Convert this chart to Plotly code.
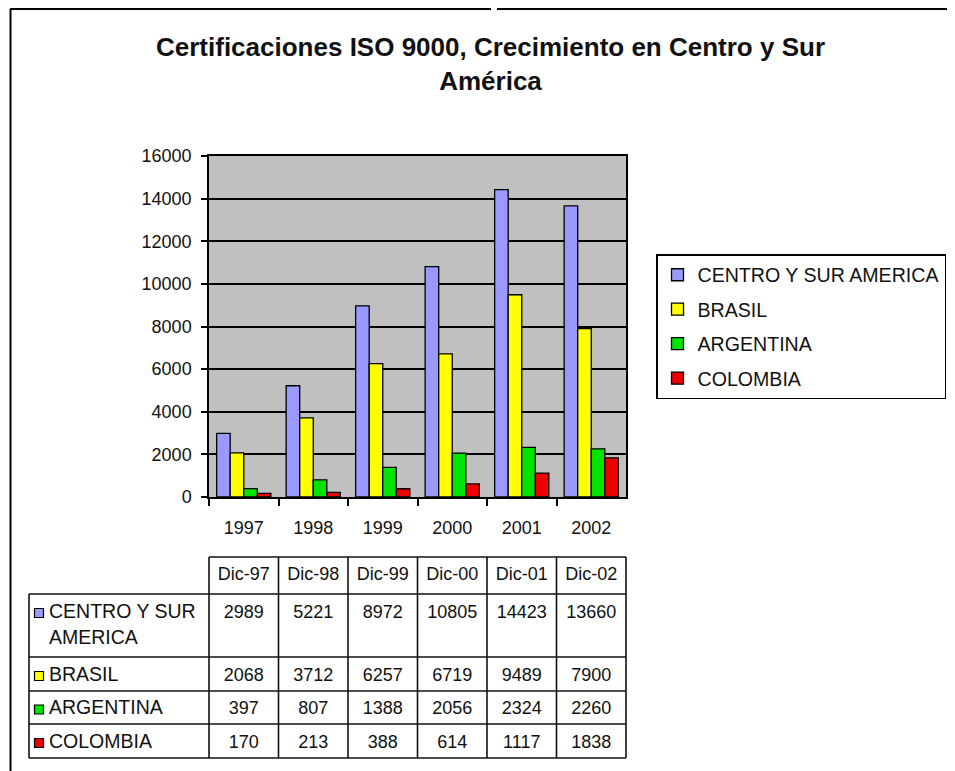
import plotly.graph_objects as go

# ---------------- data ----------------
years = ["1997", "1998", "1999", "2000", "2001", "2002"]
table_headers = ["Dic-97", "Dic-98", "Dic-99", "Dic-00", "Dic-01", "Dic-02"]
series_names = ["CENTRO Y SUR AMERICA", "BRASIL", "ARGENTINA", "COLOMBIA"]
table_labels = ["CENTRO Y SUR<br>AMERICA", "BRASIL", "ARGENTINA", "COLOMBIA"]
centro = [2989, 5221, 8972, 10805, 14423, 13660]
brasil = [2068, 3712, 6257, 6719, 9489, 7900]
argentina = [397, 807, 1388, 2056, 2324, 2260]
colombia = [170, 213, 388, 614, 1117, 1838]
series_values = [centro, brasil, argentina, colombia]
title_text = "Certificaciones ISO 9000, Crecimiento en Centro y Sur<br>América"

# ---------------- styles / layout constants ----------------
colors = ["#9999FF", "#FFFF00", "#00E400", "#EE0000"]
FONT = "Arial, Liberation Sans, sans-serif"
OFF = 8                          # html body margin
W, H = 955 - OFF, 771 - OFF
PLOT_L, PLOT_R, PLOT_T, PLOT_B = 209, 626, 156, 497   # screen pixels
UNIT = (PLOT_R - PLOT_L) / 6.0

TBL_LEFT = 29
TBL_TOP = 557
ROW_EDGES = [0, 37, 100, 134, 167, 201]
TD_L, TD_R, TD_T, TD_B = 24, 631, 553, 763


def fx(p):
    return (p - OFF) / W


def fy(p):
    return min(1.0, max(0.0, 1 - (p - OFF) / H))


def px2x(p):
    return -0.5 + (p - PLOT_L) / UNIT


fig = go.Figure()

for i, (name, vals) in enumerate(zip(series_names, series_values)):
    fig.add_trace(go.Bar(
        x=years, y=vals, name=name, legendgroup=name,
        marker=dict(color=colors[i], line=dict(color="#000000", width=1.3)),
        xaxis="x", yaxis="y", hoverinfo="x+y+name",
    ))

cat_pos = list(range(len(years)))
row_centers = [(ROW_EDGES[k] + ROW_EDGES[k + 1]) / 2 for k in range(5)]
tbl_left_x = px2x(TBL_LEFT)

fig.add_trace(go.Scatter(
    x=cat_pos, y=[row_centers[0]] * len(cat_pos), text=table_headers,
    mode="text", textposition="middle center",
    textfont=dict(family=FONT, size=18, color="#111111"),
    xaxis="x2", yaxis="y2", showlegend=False, hoverinfo="skip",
))

for i, vals in enumerate(series_values):
    yv = ROW_EDGES[i + 1] + 19 if i == 0 else row_centers[i + 1] + 2
    fig.add_trace(go.Scatter(
        x=cat_pos, y=[yv] * len(cat_pos), text=[str(v) for v in vals],
        mode="text", textposition="middle center",
        textfont=dict(family=FONT, size=18, color="#111111"),
        xaxis="x2", yaxis="y2", showlegend=False, hoverinfo="skip",
    ))
    fig.add_trace(go.Scatter(
        x=[px2x(39)], y=[yv], mode="markers",
        marker=dict(symbol="square", size=9, color=colors[i],
                    line=dict(color="#000000", width=1.2)),
        xaxis="x2", yaxis="y2", showlegend=False, hoverinfo="skip",
    ))
    ylab = (ROW_EDGES[i + 1] + 32) if i == 0 else yv
    fig.add_trace(go.Scatter(
        x=[px2x(49)], y=[ylab], text=[table_labels[i]],
        mode="text", textposition="middle right",
        textfont=dict(family=FONT, size=19.5, color="#111111"),
        xaxis="x2", yaxis="y2", showlegend=False, hoverinfo="skip",
    ))

shapes = []
shapes.append(dict(type="rect", xref="x domain", yref="y domain", x0=0, x1=1,
                   y0=0, y1=1, fillcolor="#C0C0C0", line=dict(width=0),
                   layer="below"))
LINE = dict(color="#111111", width=1.6)
shapes.append(dict(type="line", xref="x2", yref="y2", x0=-0.5, x1=5.5,
                   y0=ROW_EDGES[0], y1=ROW_EDGES[0], line=LINE))
for e in ROW_EDGES[1:]:
    shapes.append(dict(type="line", xref="x2", yref="y2", x0=tbl_left_x, x1=5.5,
                       y0=e, y1=e, line=LINE))
shapes.append(dict(type="line", xref="x2", yref="y2", x0=tbl_left_x, x1=tbl_left_x,
                   y0=ROW_EDGES[1], y1=ROW_EDGES[-1], line=LINE))
for k in range(len(years) + 1):
    xv = -0.5 + k
    shapes.append(dict(type="line", xref="x2", yref="y2", x0=xv, x1=xv,
                       y0=ROW_EDGES[0], y1=ROW_EDGES[-1], line=LINE))

BORDER = dict(color="#000000", width=2)
shapes.append(dict(type="line", xref="paper", yref="paper", x0=fx(10.5), x1=fx(10.5),
                   y0=fy(9), y1=0, line=BORDER))
shapes.append(dict(type="line", xref="paper", yref="paper", x0=fx(10), x1=fx(491),
                   y0=fy(9), y1=fy(9), line=BORDER))
shapes.append(dict(type="line", xref="paper", yref="paper", x0=fx(497), x1=1,
                   y0=fy(9), y1=fy(9), line=BORDER))

annotations = [dict(
    text=title_text, xref="paper", yref="paper", x=fx(490), y=fy(64),
    xanchor="center", yanchor="middle", align="center", showarrow=False,
    font=dict(family=FONT, size=26, color="#111111", weight="bold"),
)]

fig.update_layout(
    width=W, height=H, autosize=False,
    margin=dict(l=0, r=0, t=0, b=0),
    paper_bgcolor="#FFFFFF", plot_bgcolor="#FFFFFF",
    font=dict(family=FONT, color="#111111"),
    barmode="group", bargap=0.22, bargroupgap=0,
    xaxis=dict(domain=[fx(PLOT_L), fx(PLOT_R)], range=[-0.5, 5.5],
               type="category", tickson="boundaries", ticks="outside",
               ticklen=7, tickwidth=1.5, tickcolor="#000000",
               showline=True, linecolor="#000000", linewidth=1.5, mirror=True,
               showgrid=False, tickfont=dict(family=FONT, size=18, color="#111111"),
               ticklabelstandoff=14, anchor="y", fixedrange=True, automargin=False),
    yaxis=dict(domain=[fy(PLOT_B), fy(PLOT_T)], range=[0, 16000], dtick=2000,
               tickformat="d",
               ticks="outside", ticklen=6, tickwidth=1.5, tickcolor="#000000",
               showline=True, linecolor="#000000", linewidth=1.5, mirror=True,
               showgrid=True, gridcolor="#000000", gridwidth=1.6, zeroline=False,
               tickfont=dict(family=FONT, size=18, color="#111111"),
               ticklabelstandoff=6, anchor="x", fixedrange=True, automargin=False),
    xaxis2=dict(domain=[fx(TD_L), fx(TD_R)],
                range=[px2x(TD_L), px2x(TD_R)],
                visible=False, anchor="y2", fixedrange=True, automargin=False),
    yaxis2=dict(domain=[fy(TD_B), fy(TD_T)],
                range=[TD_B - TBL_TOP, TD_T - TBL_TOP],
                visible=False, anchor="x2", fixedrange=True, automargin=False),
    legend=dict(x=fx(656), xanchor="left", y=fy(254), yanchor="top",
                xref="paper", yref="paper",
                font=dict(family=FONT, size=19.6, color="#111111"),
                bgcolor="#FFFFFF", bordercolor="#000000", borderwidth=1.5,
                tracegroupgap=6, traceorder="grouped"),
    shapes=shapes,
    annotations=annotations,
    showlegend=True,
)

fig.write_html("out.html")
